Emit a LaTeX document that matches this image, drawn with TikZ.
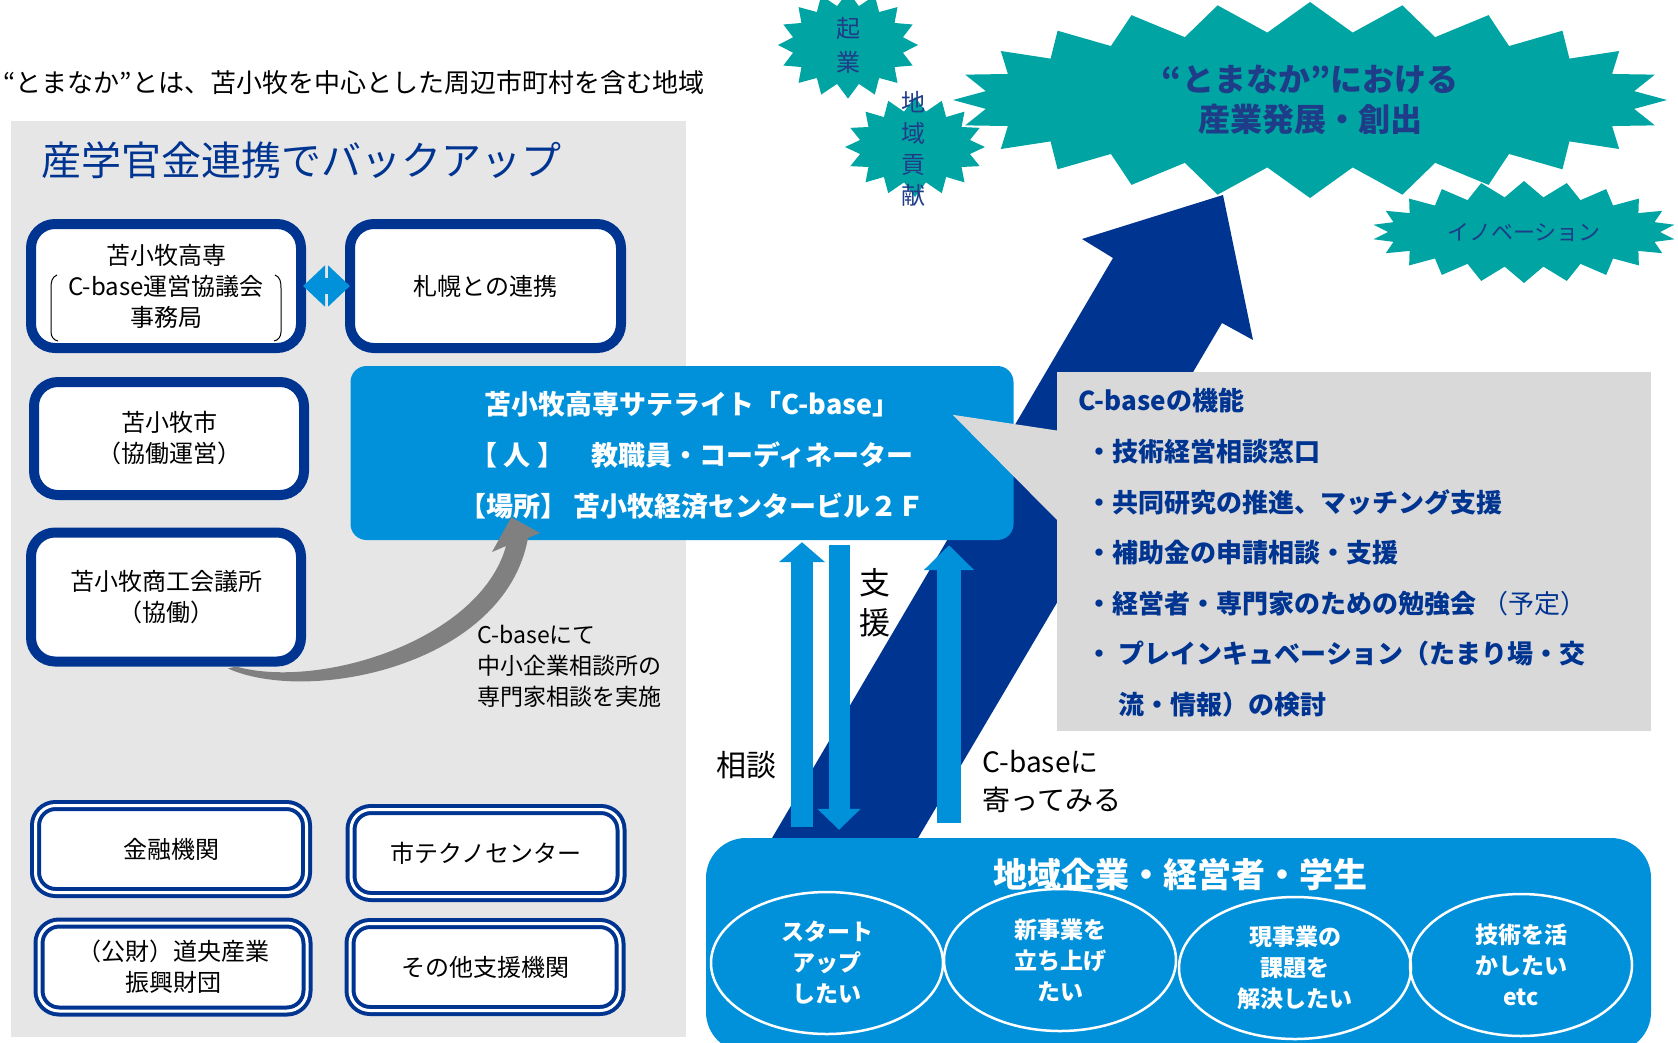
\documentclass[tikz,border=0pt]{standalone}
\usepackage{fontspec}
\setmainfont{Noto Sans CJK JP}
\usetikzlibrary{shapes.geometric,shapes.symbols,arrows.meta,calc}
\definecolor{cdark}{RGB}{0,52,145}
\definecolor{cblue}{RGB}{0,145,218}
\definecolor{cteal}{RGB}{0,164,162}
\definecolor{ctext}{RGB}{31,60,136}
\definecolor{cpanel}{RGB}{230,230,230}
\definecolor{ccall}{RGB}{217,217,217}
\definecolor{carrow}{RGB}{128,128,128}

\begin{document}
\begin{tikzpicture}[x=1pt,y=-1pt,
  orgbox/.style={draw=cdark,line width=10pt,fill=white,rounded corners=24pt,inner sep=0pt,align=center,font=\fontsize{24pt}{31pt}\selectfont},
  orgdouble/.style={draw=cdark,double=white,double distance=3pt,line width=4pt,fill=white,rounded corners=20pt,inner sep=0pt,align=center,font=\fontsize{24pt}{31pt}\selectfont},
  burst/.style={starburst,fill=cteal,random starburst=0,inner sep=0pt,text=ctext,align=center},
  wish/.style={ellipse,draw=white,line width=2.5pt,inner sep=0pt,text=white,align=center,font=\bfseries\fontsize{23pt}{31pt}\selectfont},
  funcline/.style={anchor=west,text=cdark,font=\bfseries\fontsize{26pt}{30pt}\selectfont},
  flowup/.style={cblue,line width=22pt,-{Triangle[width=45pt,length=20pt]}}]

\useasboundingbox (0,0) rectangle (1678,1042);
\fill[cpanel] (11,121) rectangle (686,1037);
\node[anchor=west,font=\fontsize{26pt}{30pt}\selectfont] (region) at (0,83) {“とまなか”とは、苫小牧を中心とした周辺市町村を含む地域};
\node[anchor=west,text=cdark,font=\fontsize{40pt}{44pt}\selectfont] (backup) at (38,160) {産学官金連携でバックアップ};

% goals
\node[burst,minimum width=714pt,minimum height=196pt,starburst points=24,starburst point height=30pt,font=\bfseries\fontsize{32pt}{40pt}\selectfont] (goal) at (1310,100) {“とまなか”における\\産業発展・創出};
\node[burst,minimum width=140pt,minimum height=94pt,starburst points=16,starburst point height=14pt,font=\fontsize{24pt}{34pt}\selectfont] (startup) at (848,45) {起\\業};
\node[burst,minimum width=140pt,minimum height=100pt,starburst points=16,starburst point height=14pt] (local) at (915,147) {};
\node[text=ctext,align=center,font=\fontsize{24pt}{31pt}\selectfont] (localtxt) at (913,149) {地\\域\\貢\\献};
\node[burst,minimum width=304pt,minimum height=102pt,starburst points=22,starburst point height=16pt,font=\fontsize{22pt}{26pt}\selectfont] (innov) at (1524,232) {イノベーション};

\fill[cdark] (765,850) -- (1113,258) -- (1082,239) -- (1223,195) -- (1253,340) -- (1222,323) -- (911,850) -- cycle;

% C-base
\node[fill=cblue,rounded corners=16pt,minimum width=663pt,minimum height=174pt,inner sep=0pt] (cbase) at (682,453) {};
\node[text=white,align=center,font=\bfseries\fontsize{27pt}{51pt}\selectfont] (cbasetxt) at (692,455) {苫小牧高専サテライト「C-base」\\【 人 】　教職員・コーディネーター\\【場所】 苫小牧経済センタービル２Ｆ};

\node[fill=ccall,minimum width=594pt,minimum height=359pt,inner sep=0pt] (func) at (1354,551.5) {};
\fill[ccall] ($(func.north west)+(2,59)$) -- ($(cbase.north east)+(-61,49)$) -- ($(func.north west)+(2,150)$) -- cycle;
\node[funcline] (fhead) at (1075,401) {C-baseの機能};
\foreach \txt [count=\i] in {・技術経営相談窓口,・共同研究の推進、マッチング支援,・補助金の申請相談・支援,{・経営者・専門家のための勉強会 {\mdseries（予定）}},・ プレインキュベーション（たまり場・交,{\phantom{・ }流・情報）の検討}}
  \node[funcline] (f\i) at (1083,{401+50.6*\i}) {\txt};

% partners
\node[orgbox,minimum width=270pt,minimum height=124pt] (kosen) at (166,286) {苫小牧高専\\C-base運営協議会\\事務局};
\draw[line width=1pt] (57,275) to[out=200,in=90] (51,288) -- (51,332) to[out=-90,in=170] (58,341);
\draw[line width=1pt] (275,275) to[out=-20,in=90] (281,288) -- (281,332) to[out=-90,in=10] (274,341);
\node[orgbox,minimum width=271pt,minimum height=124pt] (sapporo) at (485.5,286) {札幌との連携};
\node[orgbox,minimum width=270pt,minimum height=113pt] (city) at (169,438.5) {苫小牧市\\（協働運営）};
\node[orgbox,minimum width=270pt,minimum height=129pt] (chamber) at (166,597) {苫小牧商工会議所\\（協働）};
\node[orgdouble,minimum width=271pt,minimum height=87pt] (bank) at (171,849) {金融機関};
\node[orgdouble,minimum width=270pt,minimum height=87pt] (techno) at (486,853) {市テクノセンター};
\node[orgdouble,minimum width=268pt,minimum height=88pt] (found) at (173,967) {（公財）道央産業\\振興財団};
\node[orgdouble,minimum width=270pt,minimum height=87pt] (others) at (485,967) {その他支援機関};
\draw[cblue,line width=16pt,{Triangle[width=40pt,length=22pt]}-{Triangle[width=40pt,length=22pt]}] ([xshift=-3pt]kosen.east) -- ([xshift=5pt]sapporo.west);

\fill[carrow] ($(chamber.south)+(62,2)$) .. controls (310,705) and (505,665) .. (528,538) -- (540,533) -- ($(cbase.south west)+(161,-23)$) -- (492,552) -- (506,546) .. controls (480,640) and (320,690) .. ($(chamber.south)+(70,0)$) -- cycle;
\node[anchor=west,align=left,font=\fontsize{23pt}{31pt}\selectfont] (expert) at (474,666) {C-baseにて\\中小企業相談所の\\専門家相談を実施};

% firms
\node[fill=cblue,rounded corners=40pt,minimum width=945pt,minimum height=214pt,inner sep=0pt] (firms) at (1178.5,945) {};
\node[text=white,font=\bfseries\fontsize{34pt}{40pt}\selectfont] (firmstxt) at (1180,875) {地域企業・経営者・学生};
\node[wish,minimum width=232pt,minimum height=142pt] (w1) at (827,963) {スタート\\アップ\\したい};
\node[wish,minimum width=232pt,minimum height=142pt] (w2) at (1060,960) {新事業を\\立ち上げ\\たい};
\node[wish,minimum width=232pt,minimum height=142pt] (w3) at (1295,968) {現事業の\\課題を\\解決したい};
\node[wish,minimum width=222pt,minimum height=142pt] (w4) at (1521,965) {技術を活\\かしたい\\etc};

\draw[flowup] ($(802,0 |- firms.north)+(0,-11)$) -- ($(802,0 |- cbase.south)+(0,2)$);
\draw[cblue,line width=21pt,-{Triangle[width=42pt,length=21pt]}] ($(839,0 |- cbase.south)+(0,5)$) -- ($(839,0 |- firms.north)+(0,-8)$);
\draw[flowup,line width=24pt,-{Triangle[width=49pt,length=25pt]}] ($(949,0 |- firms.north)+(0,-15)$) -- ($(949,0 |- cbase.south)+(0,5)$);
\node[align=center,font=\fontsize{31pt}{40pt}\selectfont] (support) at (875,603) {支\\援};
\node[font=\fontsize{30pt}{40pt}\selectfont] (consult) at (746,765) {相談};
\node[anchor=west,align=left,font=\fontsize{28pt}{38pt}\selectfont] (visit) at (979,781) {C-baseに\\寄ってみる};
\end{tikzpicture}
\end{document}
